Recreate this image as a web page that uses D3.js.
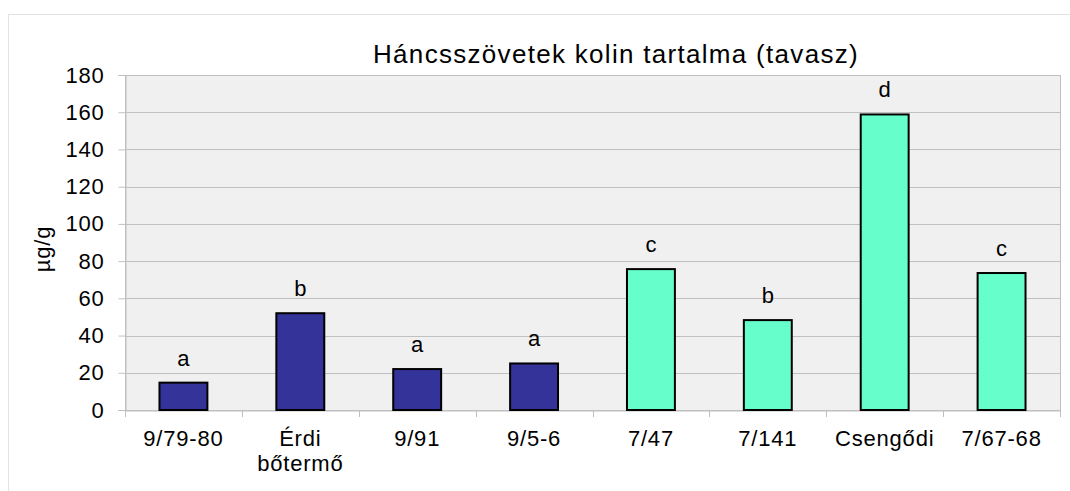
<!DOCTYPE html>
<html>
<head>
<meta charset="utf-8">
<script src="https://cdn.jsdelivr.net/npm/d3@7"></script>
<style>
  body { margin: 0; background: #fff; }
  text { font-family: "Liberation Sans", Arial, sans-serif; fill: #000; }
</style>
</head>
<body>
<div id="chart"></div>
<script>
var categories = ["9/79-80", "Érdi\nbőtermő", "9/91", "9/5-6", "7/47", "7/141", "Csengődi", "7/67-68"];
var values = [14.7, 52, 22, 25, 75.7, 48.3, 158.8, 73.6];
var letters = ["a", "b", "a", "a", "c", "b", "d", "c"];
var groups = [0, 0, 0, 0, 1, 1, 1, 1];
var yTicks = [0, 20, 40, 60, 80, 100, 120, 140, 160, 180];
var colors = ["#333399", "#66FFCC"];

var width = 1070, height = 491;
var plotL = 125, plotR = 1060, plotT = 75, plotB = 410;

var svg = d3.select("#chart").append("svg")
    .attr("width", width)
    .attr("height", height);

// outer frame
svg.append("rect")
    .attr("x", 8.5).attr("y", 14.5)
    .attr("width", 1200).attr("height", 600)
    .attr("fill", "none")
    .attr("stroke", "#e3e3e3");

var xb = d3.scaleBand().domain(d3.range(categories.length)).range([plotL, plotR]);
var x = d3.scaleBand().domain(d3.range(categories.length)).range([plotL, plotR]).paddingInner(0.59).paddingOuter(0.295);
var y = d3.scaleLinear().domain([0, 180]).range([plotB, plotT]);

// plot background
svg.append("rect")
    .attr("x", plotL + 0.5).attr("y", plotT + 0.5)
    .attr("width", plotR - plotL).attr("height", plotB - plotT)
    .attr("fill", "#f0f0f0")
    .attr("stroke", "#c0c0c0");

// gridlines
svg.selectAll(".grid").data(yTicks.slice(1)).enter().append("line")
    .attr("x1", plotL).attr("x2", plotR)
    .attr("y1", function(d){ return Math.round(y(d)) + 0.5; })
    .attr("y2", function(d){ return Math.round(y(d)) + 0.5; })
    .attr("stroke", "#c0c0c0");

// y axis
var yAxis = svg.append("g")
    .attr("transform", "translate(" + (plotL + 0.5) + ",0)")
    .call(d3.axisLeft(y).tickValues(yTicks).tickSize(7).tickPadding(14));
yAxis.select(".domain").attr("stroke", "#c0c0c0");
yAxis.selectAll(".tick line").attr("stroke", "#c0c0c0");
yAxis.selectAll(".tick text")
    .style("font-size", "22px")
    .style("letter-spacing", "0.8px")
    .style("font-family", "Liberation Sans, Arial, sans-serif")
    .attr("fill", "#000");

// x axis
var xAxis = svg.append("g")
    .attr("transform", "translate(0," + (plotB + 0.5) + ")")
    .call(d3.axisBottom(xb).tickValues([]).tickSizeOuter(0));
xAxis.select(".domain").attr("stroke", "#c0c0c0");
svg.selectAll(".xtick").data(d3.range(categories.length + 1)).enter().append("line")
    .attr("x1", function(d){ return Math.round(plotL + d * xb.bandwidth()) + 0.5; })
    .attr("x2", function(d){ return Math.round(plotL + d * xb.bandwidth()) + 0.5; })
    .attr("y1", plotB).attr("y2", plotB + 7)
    .attr("stroke", "#c0c0c0");

// category labels
var lab = svg.selectAll(".xlab").data(categories).enter().append("text")
    .attr("text-anchor", "middle")
    .style("font-size", "22px")
    .style("letter-spacing", "0.8px")
    .attr("x", function(d, i){ return xb(i) + xb.bandwidth() / 2; })
    .attr("y", 446);
lab.each(function(d){
    var t = d3.select(this);
    d.split("\n").forEach(function(line, k){
        t.append("tspan")
            .attr("x", t.attr("x"))
            .attr("dy", k === 0 ? 0 : 25)
            .text(line);
    });
});

// bars
svg.selectAll(".bar").data(values).enter().append("rect")
    .attr("x", function(d, i){ return x(i); })
    .attr("y", function(d){ return y(d); })
    .attr("width", x.bandwidth())
    .attr("height", function(d){ return plotB - y(d); })
    .attr("fill", function(d, i){ return colors[groups[i]]; })
    .attr("stroke", "#000")
    .attr("stroke-width", 2);

// significance letters
svg.selectAll(".let").data(values).enter().append("text")
    .attr("text-anchor", "middle")
    .style("font-size", "22px")
    .attr("x", function(d, i){ return x(i) + x.bandwidth() / 2; })
    .attr("y", function(d){ return y(d) - 17; })
    .text(function(d, i){ return letters[i]; });

// title
svg.append("text")
    .attr("x", 616).attr("y", 63)
    .attr("text-anchor", "middle")
    .style("font-size", "26px")
    .style("letter-spacing", "1.3px")
    .text("Háncsszövetek kolin tartalma (tavasz)");

// y label
svg.append("text")
    .attr("transform", "translate(50,249) rotate(-90)")
    .attr("text-anchor", "middle")
    .style("font-size", "22px")
    .style("letter-spacing", "0.8px")
    .text("µg/g");
</script>
</body>
</html>
